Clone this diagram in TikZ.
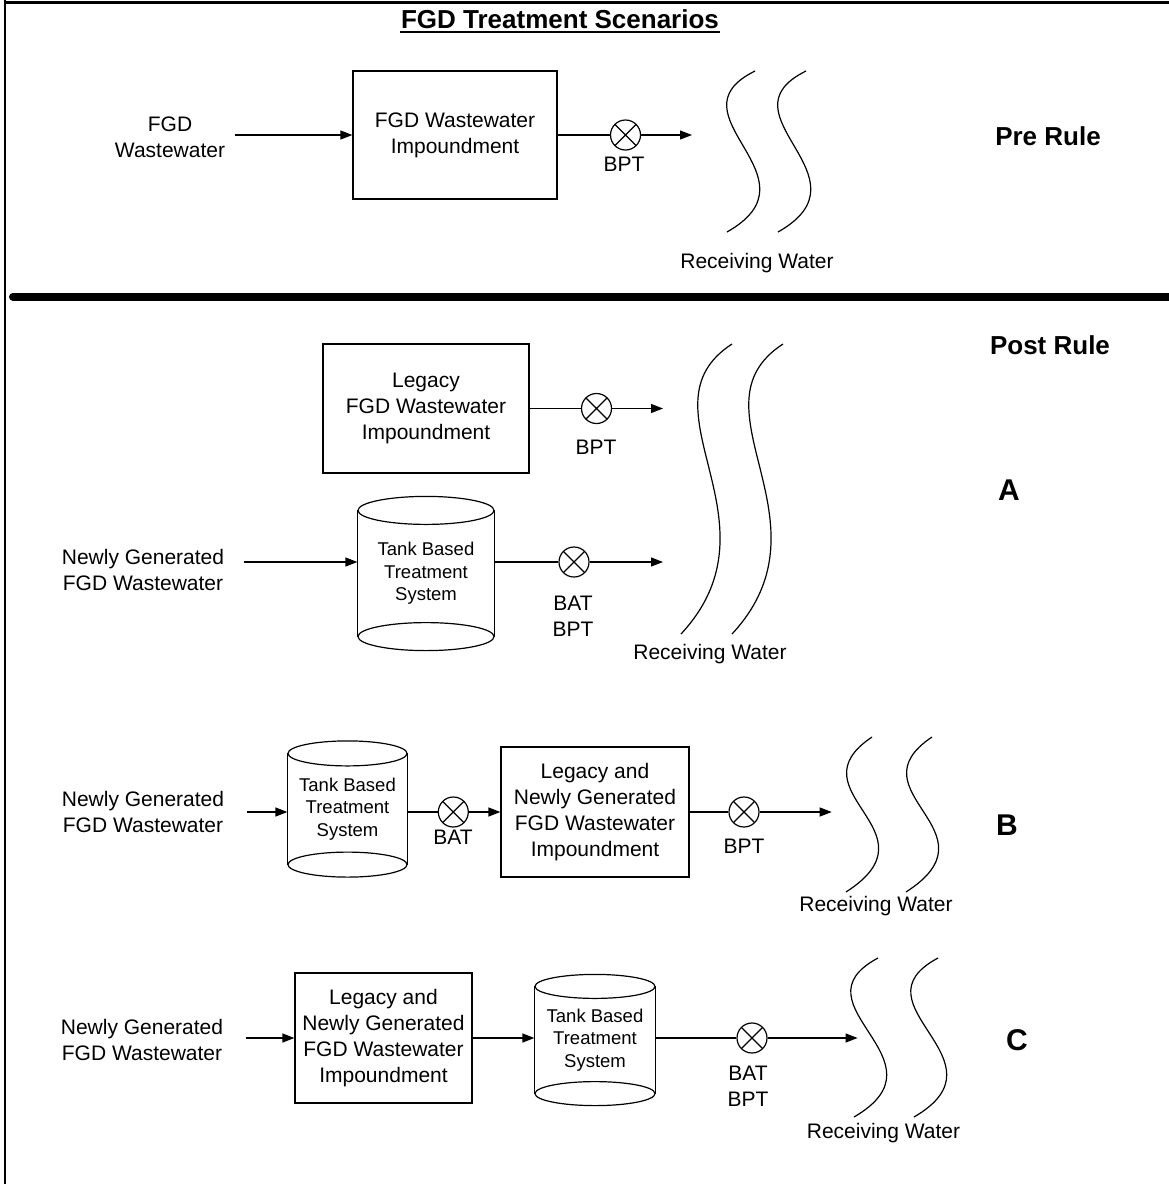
\documentclass[tikz,border=0pt]{standalone}
\usepackage{fontspec}
\setmainfont{Liberation Sans}
\usetikzlibrary{arrows.meta}

% vertical storage tank drawn around a (borderless) named node
% #1 node name, #2 half height of the end ellipses, #3 half width
\newcommand\drawtank[3]{%
  \draw ([yshift=-#2pt]#1.north west) -- ([yshift=#2pt]#1.south west)
        ([yshift=-#2pt]#1.north east) -- ([yshift=#2pt]#1.south east);
  \draw ([yshift=-#2pt]#1.north) ellipse [x radius=#3pt, y radius=#2pt];
  \draw ([yshift=#2pt]#1.south) ellipse [x radius=#3pt, y radius=#2pt];
}
% pair of wavy lines standing for the receiving water body
\newcommand\wavepair[5]{%
  \draw #1 .. controls #2 and #3 .. #4;
  \draw[xshift=#5pt] #1 .. controls #2 and #3 .. #4;
}

\begin{document}
\begin{tikzpicture}[x=1pt,y=-1pt,line width=1.2pt,
  txt/.style={font=\fontsize{21}{26}\selectfont, align=center, inner sep=0pt},
  small/.style={font=\fontsize{18.5}{22.5}\selectfont, align=center, inner sep=0pt},
  tag/.style={font=\fontsize{26}{30}\selectfont\bfseries, inner sep=0pt},
  letter/.style={font=\fontsize{30}{34}\selectfont\bfseries, inner sep=0pt},
  box/.style={draw, txt, inner sep=2pt},
  tank/.style={small},
  valve/.style={circle, draw, minimum size=30pt, inner sep=0pt,
    path picture={\draw (path picture bounding box.north west) -- (path picture bounding box.south east)
                        (path picture bounding box.north east) -- (path picture bounding box.south west);}},
  arr/.style={-{Triangle[length=12pt,width=9pt]}}
]
\useasboundingbox (0,0) rectangle (1169,1184);
\fill[white] (0,0) rectangle (1169,1184);

% frame and section divider
\draw[line width=2.2pt] (5,0) -- (5,1184);
\draw[line width=2.5pt] (4,2.5) -- (1169,2.5);
\draw[line width=8pt, line cap=round] (13,296.7) -- (1185,296.7);

% title
\node[font=\fontsize{26}{30}\selectfont\bfseries, inner sep=0pt, anchor=base] (title) at (560,28) {FGD Treatment Scenarios};
\draw[line width=1.6pt] ([yshift=-4pt]title.base west) -- ([yshift=-4pt]title.base east);

% ---------------- Pre rule ----------------
\node[txt] (in0) at (170,137) {FGD\\Wastewater};
\node[box, minimum width=204pt, minimum height=128pt] (imp0) at (455,135) {FGD Wastewater\\Impoundment};
\node[valve] (v0) at (625.5,135) {};
\node[txt] (bpt0) at (624,164.5) {BPT};
\coordinate (out0) at (692,135);
\draw[arr, shorten <=9pt] (in0.east |- imp0.west) -- (imp0.west);
\draw (imp0.east) -- (v0.west);
\draw[arr] (v0.east) -- (out0);
\wavepair{(755,71)}{(666,115)}{(824,177)}{(727,232)}{51}
\node[txt] (rw0) at (757,263) {Receiving Water};
\node[tag] (pre) at (1048,136) {Pre Rule};

% ---------------- Post rule ----------------
\node[tag] (post) at (1050,345) {Post Rule};

% scenario A
\node[box, minimum width=206pt, minimum height=129pt] (impA) at (426,408.5) {Legacy\\FGD Wastewater\\Impoundment};
\node[valve] (vA1) at (596.5,408.5) {};
\node[txt] (bptA) at (596,447) {BPT};
\coordinate (outA1) at (663,408.5);
\draw (impA.east) -- (vA1.west);
\draw[arr] (vA1.east) -- (outA1);

\node[txt] (inA) at (143,569.5) {Newly Generated\\FGD Wastewater};
\node[tank, minimum width=136pt, minimum height=153pt] (tankA) at (426,573.5) {Tank Based\\Treatment\\System};
\drawtank{tankA}{14}{68}
\node[valve] (vA2) at (574,562) {};
\node[txt] (batA) at (573,616) {BAT\\BPT};
\coordinate (outA2) at (663,562);
\draw[arr, shorten <=19pt] (inA.east |- vA2) -- (tankA.west |- vA2);
\draw (tankA.east |- vA2) -- (vA2.west);
\draw[arr] (vA2.east) -- (outA2);
\wavepair{(732,344)}{(635,407)}{(786,521)}{(681,634)}{51}
\node[txt] (rwA) at (710,654) {Receiving Water};
\node[letter] (labA) at (1009,490) {A};

% scenario B
\node[txt] (inB) at (143,811.5) {Newly Generated\\FGD Wastewater};
\node[tank, minimum width=119pt, minimum height=135pt] (tankB) at (347.5,809) {Tank Based\\Treatment\\System};
\drawtank{tankB}{12.5}{59.5}
\node[valve] (vB1) at (453.3,812) {};
\node[txt] (batB) at (453,837) {BAT};
\node[box, minimum width=188pt, minimum height=130pt] (impB) at (595,812) {Legacy and\\Newly Generated\\FGD Wastewater\\Impoundment};
\node[valve] (vB2) at (744,812) {};
\node[txt] (bptB) at (744,846) {BPT};
\coordinate (outB) at (831.7,812);
\draw[arr, shorten <=22pt] (inB.east |- vB1) -- (tankB.west |- vB1);
\draw (tankB.east |- vB1) -- (vB1.west);
\draw[arr] (vB1.east) -- (impB.west);
\draw (impB.east) -- (vB2.west);
\draw[arr] (vB2.east) -- (outB);
\wavepair{(872,737)}{(790,792)}{(941,831)}{(846,892)}{60}
\node[txt] (rwB) at (876,906) {Receiving Water};
\node[letter] (labB) at (1007,825) {B};

% scenario C
\node[txt] (inC) at (142,1040) {Newly Generated\\FGD Wastewater};
\node[box, minimum width=177pt, minimum height=130pt] (impC) at (383.5,1038) {Legacy and\\Newly Generated\\FGD Wastewater\\Impoundment};
\node[tank, minimum width=120pt, minimum height=130pt] (tankC) at (595,1040) {Tank Based\\Treatment\\System};
\drawtank{tankC}{12}{60}
\node[valve] (vC) at (752,1038) {};
\node[txt] (batC) at (748,1086.5) {BAT\\BPT};
\coordinate (outC) at (857.6,1038);
\draw[arr, shorten <=22pt] (inC.east |- impC.west) -- (impC.west);
\draw[arr] (impC.east) -- (tankC.west |- impC.east);
\draw (tankC.east |- vC) -- (vC.west);
\draw[arr] (vC.east) -- (outC);
\wavepair{(878,958)}{(790,1005)}{(952,1060)}{(854,1117)}{60}
\node[txt] (rwC) at (883.5,1133) {Receiving Water};
\node[letter] (labC) at (1017,1040) {C};
\end{tikzpicture}
\end{document}
